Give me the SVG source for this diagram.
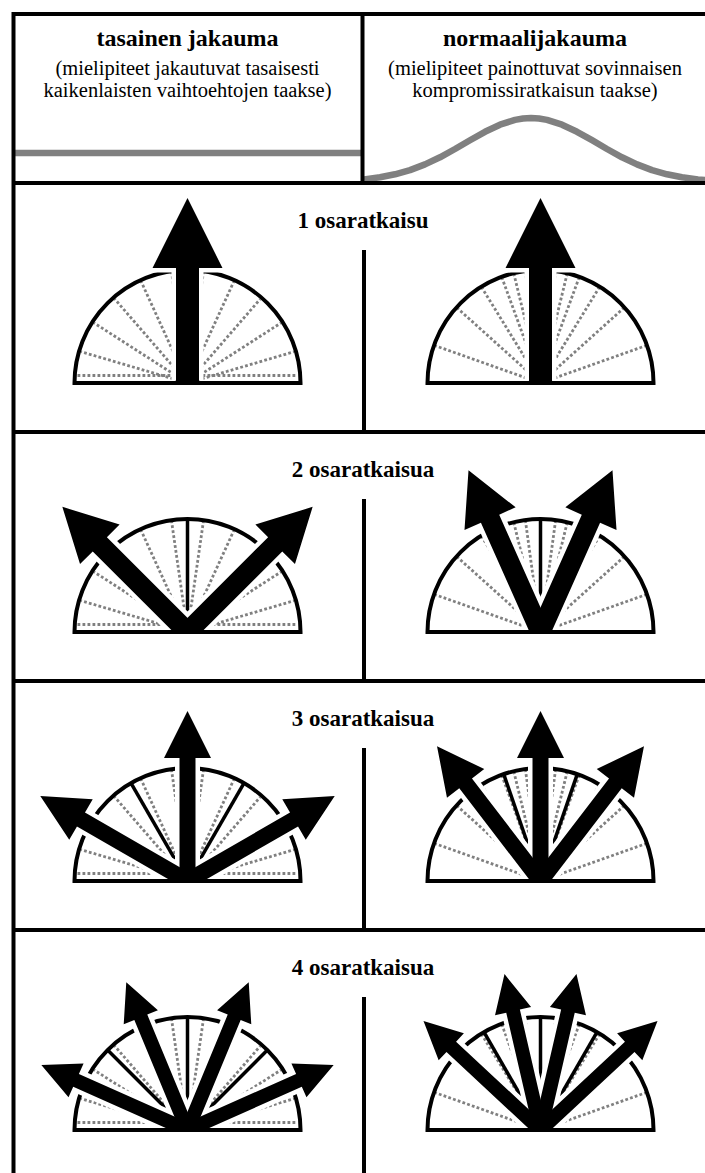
<svg xmlns="http://www.w3.org/2000/svg" width="705" height="1173" viewBox="0 0 705 1173">
<style>
.frame{stroke:#000;stroke-width:4;fill:none}
.gray{stroke:#808080;stroke-width:6.5;fill:none;stroke-linejoin:round}
.sf{fill:#fff;stroke:none}
.so{fill:none;stroke:#000;stroke-width:4}
.s{stroke:#000;stroke-width:3.5}
.wo{fill:#fff;stroke:#fff;stroke-width:9;stroke-linejoin:miter}
.ar{fill:#000;stroke:none}
</style>
<defs>
<path id="semi" d="M-113,0 A113,113 0 0 1 113,0 Z"/>
<g id="udots" stroke="#808080" stroke-width="2.8" stroke-dasharray="2.8 2.2" fill="none">
<line x1="-110" y1="-7.5" x2="110" y2="-7.5"/>
<line x1="0" y1="0" x2="-111" y2="0" transform="rotate(16.36)"/>
<line x1="0" y1="0" x2="-111" y2="0" transform="rotate(32.73)"/>
<line x1="0" y1="0" x2="-111" y2="0" transform="rotate(49.09)"/>
<line x1="0" y1="0" x2="-111" y2="0" transform="rotate(65.45)"/>
<line x1="0" y1="0" x2="-111" y2="0" transform="rotate(81.82)"/>
<line x1="0" y1="0" x2="-111" y2="0" transform="rotate(98.18)"/>
<line x1="0" y1="0" x2="-111" y2="0" transform="rotate(114.55)"/>
<line x1="0" y1="0" x2="-111" y2="0" transform="rotate(130.91)"/>
<line x1="0" y1="0" x2="-111" y2="0" transform="rotate(147.27)"/>
<line x1="0" y1="0" x2="-111" y2="0" transform="rotate(163.64)"/>
</g>
<g id="ndots" stroke="#808080" stroke-width="2.8" stroke-dasharray="2.8 2.2" fill="none">
<line x1="0" y1="0" x2="-111" y2="0" transform="rotate(19.5)"/>
<line x1="0" y1="0" x2="-111" y2="0" transform="rotate(42)"/>
<line x1="0" y1="0" x2="-111" y2="0" transform="rotate(58.4)"/>
<line x1="0" y1="0" x2="-111" y2="0" transform="rotate(69.9)"/>
<line x1="0" y1="0" x2="-111" y2="0" transform="rotate(76.3)"/>
<line x1="0" y1="0" x2="-111" y2="0" transform="rotate(82.3)"/>
<line x1="0" y1="0" x2="-111" y2="0" transform="rotate(97.7)"/>
<line x1="0" y1="0" x2="-111" y2="0" transform="rotate(103.7)"/>
<line x1="0" y1="0" x2="-111" y2="0" transform="rotate(110.1)"/>
<line x1="0" y1="0" x2="-111" y2="0" transform="rotate(121.6)"/>
<line x1="0" y1="0" x2="-111" y2="0" transform="rotate(138)"/>
<line x1="0" y1="0" x2="-111" y2="0" transform="rotate(160.5)"/>
</g>
<line id="sl" x1="0" y1="0" x2="-113" y2="0"/>
<polygon id="a1" points="6,-11.5 -115,-11.5 -115,-35 -185,0 -115,35 -115,11.5 6,11.5"/>
<polygon id="a2" points="10,-10 -124,-10 -124,-28 -177,0 -124,28 -124,10 10,10"/>
<polygon id="a3" points="9,-8 -123,-8 -123,-23.5 -170,0 -123,23.5 -123,8 9,8"/>
<polygon id="a4" points="9,-7 -122,-7 -122,-18.5 -160,0 -122,18.5 -122,7 9,7"/>
<clipPath id="cb" clipPathUnits="userSpaceOnUse"><rect x="-300" y="-300" width="600" height="302"/></clipPath>
<clipPath id="cw" clipPathUnits="userSpaceOnUse"><rect x="-300" y="-300" width="600" height="297.5"/></clipPath>
</defs>

<g id="header-left">
<line class="gray" x1="15" y1="153" x2="362" y2="153"/>
<text x="187.5" y="46" font-size="24" font-weight="bold" text-anchor="middle" font-family="'Liberation Serif', 'Times New Roman', 'DejaVu Serif', serif">tasainen jakauma</text>
<text x="187.5" y="75" font-size="20.5" text-anchor="middle" font-family="'Liberation Serif', 'Times New Roman', 'DejaVu Serif', serif">(mielipiteet jakautuvat tasaisesti</text>
<text x="187.5" y="97" font-size="20.5" text-anchor="middle" font-family="'Liberation Serif', 'Times New Roman', 'DejaVu Serif', serif">kaikenlaisten vaihtoehtojen taakse)</text>
</g>
<g id="header-right">
<path class="gray" d="M364,179.4 L380,177.3 L395,174.3 L410,170.1 L425,164.4 L440,157.3 L455,149 L470,140.2 L485,131.8 L500,124.7 L515,119.9 L523,118.5 L531,118 L539,118.5 L547,119.9 L562,124.7 L577,131.8 L592,140.2 L607,149 L622,157.3 L637,164.4 L652,170.1 L667,174.3 L682,177.3 L698,179.4 L713,180.5"/>
<text x="535" y="46" font-size="24" font-weight="bold" text-anchor="middle" font-family="'Liberation Serif', 'Times New Roman', 'DejaVu Serif', serif">normaalijakauma</text>
<text x="535" y="75" font-size="20.5" text-anchor="middle" font-family="'Liberation Serif', 'Times New Roman', 'DejaVu Serif', serif">(mielipiteet painottuvat sovinnaisen</text>
<text x="535" y="97" font-size="20.5" text-anchor="middle" font-family="'Liberation Serif', 'Times New Roman', 'DejaVu Serif', serif">kompromissiratkaisun taakse)</text>
</g>

<g id="frame">
<line class="frame" x1="12" y1="14" x2="705" y2="14"/>
<line class="frame" x1="13.5" y1="12" x2="13.5" y2="1173"/>
<line class="frame" x1="362.5" y1="14" x2="362.5" y2="183"/>
<line class="frame" x1="12" y1="183" x2="705" y2="183"/>
<line class="frame" x1="12" y1="432" x2="705" y2="432"/>
<line class="frame" x1="12" y1="681" x2="705" y2="681"/>
<line class="frame" x1="12" y1="930" x2="705" y2="930"/>
<line class="frame" x1="364" y1="250" x2="364" y2="432"/>
<line class="frame" x1="364" y1="499" x2="364" y2="681"/>
<line class="frame" x1="364" y1="748" x2="364" y2="930"/>
<line class="frame" x1="364" y1="997" x2="364" y2="1173"/>
</g>

<g id="labels" font-family="'Liberation Serif', 'Times New Roman', 'DejaVu Serif', serif" font-weight="bold" font-size="23" text-anchor="middle">
<text x="363" y="228">1 osaratkaisu</text>
<text x="363" y="477">2 osaratkaisua</text>
<text x="363" y="726">3 osaratkaisua</text>
<text x="363" y="975">4 osaratkaisua</text>
</g>

<g id="r1-uniform" transform="translate(187.5,383)">
<use href="#semi" class="sf"/><use href="#udots"/><use href="#semi" class="so"/>
<g clip-path="url(#cw)"><use href="#a1" class="wo" transform="rotate(90)"/></g>
<g clip-path="url(#cb)"><use href="#a1" class="ar" transform="rotate(90)"/></g>
</g>
<g id="r1-normal" transform="translate(540.5,383)">
<use href="#semi" class="sf"/><use href="#ndots"/><use href="#semi" class="so"/>
<g clip-path="url(#cw)"><use href="#a1" class="wo" transform="rotate(90)"/></g>
<g clip-path="url(#cb)"><use href="#a1" class="ar" transform="rotate(90)"/></g>
</g>

<g id="r2-uniform" transform="translate(187.5,632)">
<use href="#semi" class="sf"/><use href="#udots"/>
<use href="#sl" class="s" transform="rotate(90)"/>
<use href="#semi" class="so"/>
<g clip-path="url(#cw)"><use href="#a2" class="wo" transform="rotate(45)"/><use href="#a2" class="wo" transform="rotate(135)"/></g>
<g clip-path="url(#cb)"><use href="#a2" class="ar" transform="rotate(45)"/><use href="#a2" class="ar" transform="rotate(135)"/></g>
</g>
<g id="r2-normal" transform="translate(540.5,632)">
<use href="#semi" class="sf"/><use href="#ndots"/>
<use href="#sl" class="s" transform="rotate(90)"/>
<use href="#semi" class="so"/>
<g clip-path="url(#cw)"><use href="#a2" class="wo" transform="rotate(66)"/><use href="#a2" class="wo" transform="rotate(114)"/></g>
<g clip-path="url(#cb)"><use href="#a2" class="ar" transform="rotate(66)"/><use href="#a2" class="ar" transform="rotate(114)"/></g>
</g>

<g id="r3-uniform" transform="translate(187.5,881)">
<use href="#semi" class="sf"/><use href="#udots"/>
<use href="#sl" class="s" transform="rotate(60)"/><use href="#sl" class="s" transform="rotate(120)"/>
<use href="#semi" class="so"/>
<g clip-path="url(#cw)"><use href="#a3" class="wo" transform="rotate(30)"/><use href="#a3" class="wo" transform="rotate(90)"/><use href="#a3" class="wo" transform="rotate(150)"/></g>
<g clip-path="url(#cb)"><use href="#a3" class="ar" transform="rotate(30)"/><use href="#a3" class="ar" transform="rotate(90)"/><use href="#a3" class="ar" transform="rotate(150)"/></g>
</g>
<g id="r3-normal" transform="translate(540.5,881)">
<use href="#semi" class="sf"/><use href="#ndots"/>
<use href="#sl" class="s" transform="rotate(71)"/><use href="#sl" class="s" transform="rotate(109)"/>
<use href="#semi" class="so"/>
<g clip-path="url(#cw)"><use href="#a3" class="wo" transform="rotate(52.5)"/><use href="#a3" class="wo" transform="rotate(90)"/><use href="#a3" class="wo" transform="rotate(127.5)"/></g>
<g clip-path="url(#cb)"><use href="#a3" class="ar" transform="rotate(52.5)"/><use href="#a3" class="ar" transform="rotate(90)"/><use href="#a3" class="ar" transform="rotate(127.5)"/></g>
</g>

<g id="r4-uniform" transform="translate(187.5,1130)">
<use href="#semi" class="sf"/><use href="#udots"/>
<use href="#sl" class="s" transform="rotate(45)"/><use href="#sl" class="s" transform="rotate(90)"/><use href="#sl" class="s" transform="rotate(135)"/>
<use href="#semi" class="so"/>
<g clip-path="url(#cw)"><use href="#a4" class="wo" transform="rotate(24)"/><use href="#a4" class="wo" transform="rotate(67.5)"/><use href="#a4" class="wo" transform="rotate(112.5)"/><use href="#a4" class="wo" transform="rotate(156)"/></g>
<g clip-path="url(#cb)"><use href="#a4" class="ar" transform="rotate(24)"/><use href="#a4" class="ar" transform="rotate(67.5)"/><use href="#a4" class="ar" transform="rotate(112.5)"/><use href="#a4" class="ar" transform="rotate(156)"/></g>
</g>
<g id="r4-normal" transform="translate(540.5,1130)">
<use href="#semi" class="sf"/><use href="#ndots"/>
<use href="#sl" class="s" transform="rotate(60)"/><use href="#sl" class="s" transform="rotate(90)"/><use href="#sl" class="s" transform="rotate(120)"/>
<use href="#semi" class="so"/>
<g clip-path="url(#cw)"><use href="#a4" class="wo" transform="rotate(43)"/><use href="#a4" class="wo" transform="rotate(77)"/><use href="#a4" class="wo" transform="rotate(103)"/><use href="#a4" class="wo" transform="rotate(137)"/></g>
<g clip-path="url(#cb)"><use href="#a4" class="ar" transform="rotate(43)"/><use href="#a4" class="ar" transform="rotate(77)"/><use href="#a4" class="ar" transform="rotate(103)"/><use href="#a4" class="ar" transform="rotate(137)"/></g>
</g>
</svg>
